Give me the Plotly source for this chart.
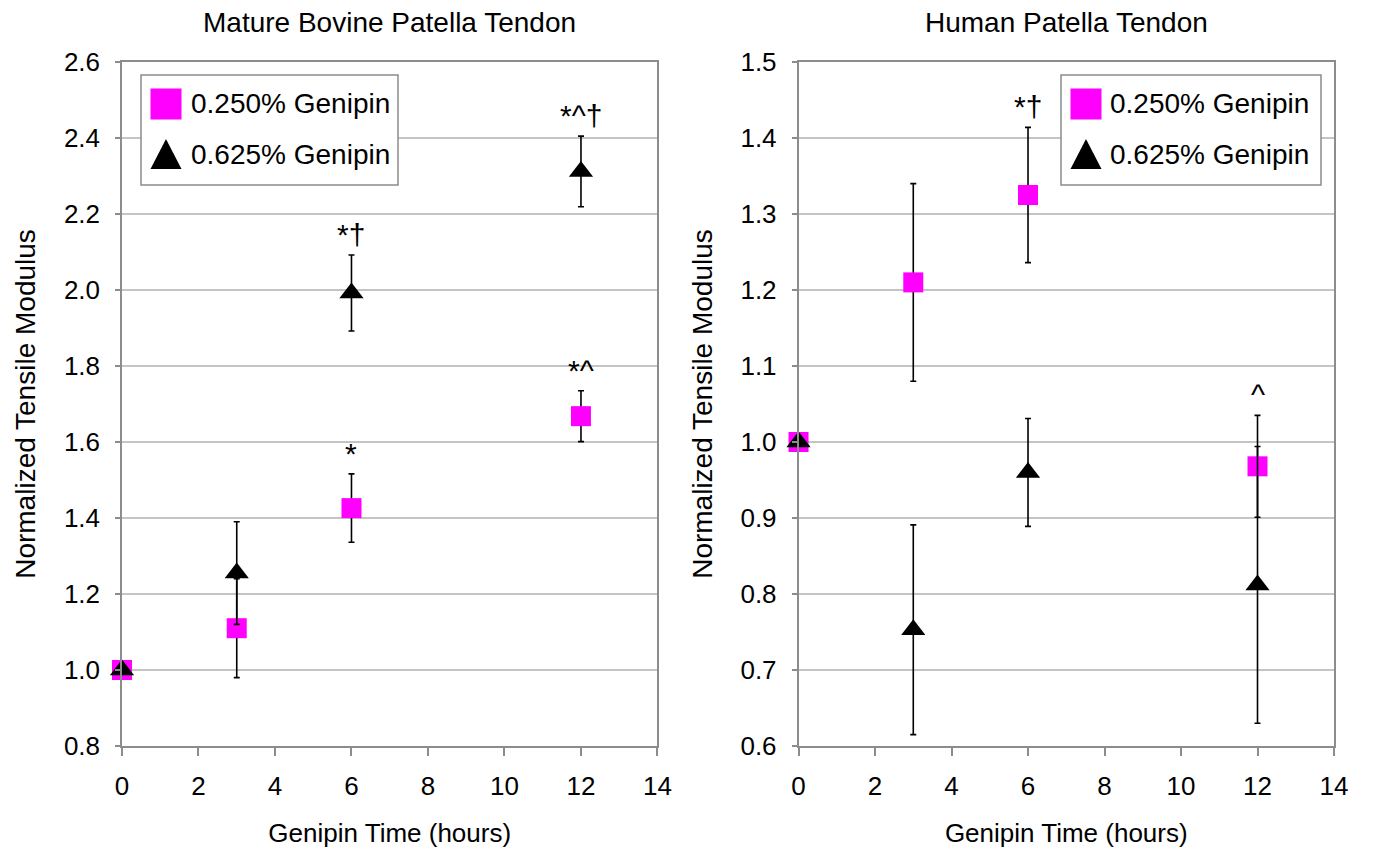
import plotly.graph_objects as go
from plotly.subplots import make_subplots

hours = [0, 3, 6, 12]
series_names = ["0.250% Genipin", "0.625% Genipin"]

# Mature Bovine Patella Tendon
bov_low = [1.0, 1.11, 1.426, 1.668]
bov_low_err = [0.0, 0.13, 0.09, 0.067]
bov_high = [1.0, 1.255, 1.992, 2.312]
bov_high_err = [0.0, 0.135, 0.10, 0.093]
bov_marks_low = ["", "", "*", "*^"]
bov_marks_high = ["", "", "*†", "*^†"]

# Human Patella Tendon
hum_low = [1.0, 1.21, 1.325, 0.968]
hum_low_err = [0.0, 0.13, 0.089, 0.067]
hum_high = [1.0, 0.753, 0.96, 0.812]
hum_high_err = [0.0, 0.138, 0.071, 0.182]
hum_marks_low = ["", "", "*†", "^"]
hum_marks_high = ["", "", "", ""]

titles = ["Mature Bovine Patella Tendon", "Human Patella Tendon"]
x_title = "Genipin Time (hours)"
y_title = "Normalized Tensile Modulus"

FONT = "Liberation Sans, Arial, sans-serif"
MAGENTA = "#ff00ff"
AXIS_GRAY = "#8c8c8c"
GRID_GRAY = "#c4c4c4"

# figure geometry (page adds an 8px body margin)
W, H = 1358, 840
ML, MR, MT, MB = 114, 32, 54, 102
PW, PH = W - ML - MR, H - MT - MB

def px(X):  # screenshot x pixel -> paper
    return (X - 8 - ML) / PW

def py(Y):  # screenshot y pixel -> paper
    return (H - MB - (Y - 8)) / PH

fig = make_subplots(rows=1, cols=2, horizontal_spacing=0.1164)

def add_series(col, low, low_err, high, high_err):
    fig.add_trace(go.Scatter(
        x=hours, y=low, mode="markers", name=series_names[0], showlegend=False,
        cliponaxis=False,
        marker=dict(symbol="square", size=20, color=MAGENTA),
        error_y=dict(type="data", array=low_err, color="black", thickness=1.6, width=3),
    ), row=1, col=col)
    fig.add_trace(go.Scatter(
        x=hours, y=high, mode="markers", name=series_names[1], showlegend=False,
        cliponaxis=False,
        marker=dict(symbol="triangle-up", size=21, color="black"),
        error_y=dict(type="data", array=high_err, color="black", thickness=1.6, width=3),
    ), row=1, col=col)

add_series(1, bov_low, bov_low_err, bov_high, bov_high_err)
add_series(2, hum_low, hum_low_err, hum_high, hum_high_err)

def add_marks(xref, yref, vals, errs, marks):
    for x, v, e, m in zip(hours, vals, errs, marks):
        if m:
            fig.add_annotation(x=x, y=v + e, xref=xref, yref=yref, text=m,
                               showarrow=False, yanchor="bottom", yshift=2,
                               font=dict(family=FONT, size=30, color="black"))

add_marks("x", "y", bov_low, bov_low_err, bov_marks_low)
add_marks("x", "y", bov_high, bov_high_err, bov_marks_high)
add_marks("x2", "y2", hum_low, hum_low_err, hum_marks_low)
add_marks("x2", "y2", hum_high, hum_high_err, hum_marks_high)

# subplot titles
for i, t in enumerate(titles):
    fig.add_annotation(text=t, xref=f"x{'' if i == 0 else 2} domain", yref="paper",
                       x=0.5, y=1, yanchor="middle", yshift=40, showarrow=False,
                       font=dict(family=FONT, size=28, color="black"))

# custom legends (box, keys, labels)
def add_legend(X0, Y0, X1, Y1, key_cx, text_x, rows_y):
    fig.add_shape(type="rect", xref="paper", yref="paper",
                  x0=px(X0), x1=px(X1), y0=py(Y1), y1=py(Y0),
                  line=dict(color=AXIS_GRAY, width=1.5), fillcolor="white", layer="above")
    half = 15.5
    yA, yB = rows_y
    fig.add_shape(type="rect", xref="paper", yref="paper",
                  x0=px(key_cx - half), x1=px(key_cx + half),
                  y0=py(yA + half), y1=py(yA - half),
                  line=dict(width=0), fillcolor=MAGENTA, layer="above")
    path = (f"M {px(key_cx)},{py(yB - 15)} L {px(key_cx - 15.5)},{py(yB + 15)} "
            f"L {px(key_cx + 15.5)},{py(yB + 15)} Z")
    fig.add_shape(type="path", xref="paper", yref="paper", path=path,
                  line=dict(width=0), fillcolor="black", layer="above")
    for name, yy in zip(series_names, rows_y):
        fig.add_annotation(text=name, xref="paper", yref="paper", x=px(text_x), y=py(yy),
                           xanchor="left", yanchor="middle", showarrow=False,
                           font=dict(family=FONT, size=28, color="black"))

add_legend(141, 75, 398, 185, 166, 189, (104, 154))
add_legend(1061, 75, 1321, 185, 1086, 1108, (104, 154))

axis_common = dict(showline=True, linecolor=AXIS_GRAY, linewidth=1.5, mirror=True,
                   ticks="outside", tickcolor=AXIS_GRAY, tickwidth=1.5,
                   tickfont=dict(family=FONT, size=26, color="black"),
                   zeroline=False, automargin=False)

for col in (1, 2):
    fig.update_xaxes(range=[0, 14], dtick=2, tick0=0, showgrid=False, ticklen=8,
                     ticklabelstandoff=8,
                     title=dict(text=x_title, font=dict(family=FONT, size=26, color="black"), standoff=26),
                     **axis_common, row=1, col=col)

fig.update_yaxes(range=[0.8, 2.6], dtick=0.2, tickformat=".1f", showgrid=True, gridcolor=GRID_GRAY,
                 gridwidth=1.5, ticklen=5, ticklabelstandoff=10,
                 title=dict(text=y_title, font=dict(family=FONT, size=28, color="black"), standoff=20),
                 **axis_common, row=1, col=1)
fig.update_yaxes(range=[0.6, 1.5], dtick=0.1, tickformat=".1f", showgrid=True, gridcolor=GRID_GRAY,
                 gridwidth=1.5, ticklen=5, ticklabelstandoff=10,
                 title=dict(text=y_title, font=dict(family=FONT, size=28, color="black"), standoff=20),
                 **axis_common, row=1, col=2)

fig.update_layout(
    width=W, height=H,
    margin=dict(l=ML, r=MR, t=MT, b=MB),
    plot_bgcolor="white", paper_bgcolor="white",
    font=dict(family=FONT, color="black"),
    showlegend=False,
)

fig.write_html("out.html")
